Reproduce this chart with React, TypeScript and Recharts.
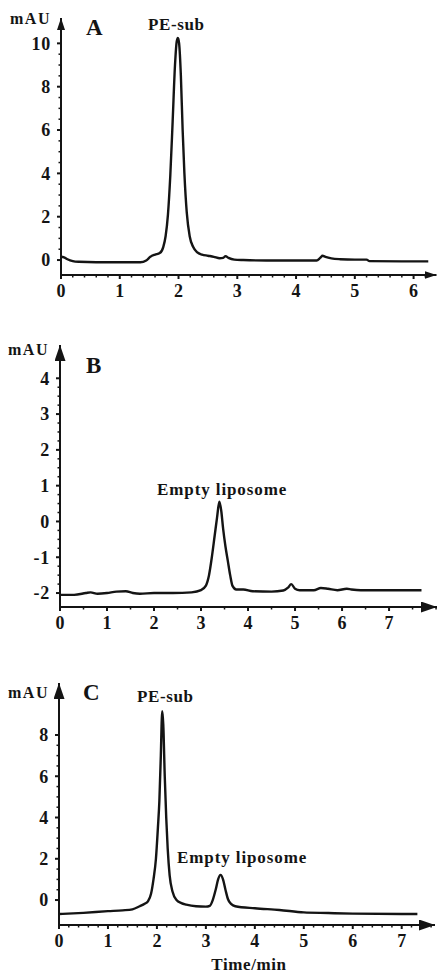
import { LineChart, Line, XAxis, YAxis } from "recharts";

// Panel A: PE-sub
const timeA = [0, 0.05, 0.1, 0.2, 0.3, 0.6, 1.0, 1.35, 1.45, 1.52, 1.6, 1.68, 1.74, 1.78, 1.82, 1.86, 1.9, 1.94, 1.97, 1.99, 2.01, 2.04, 2.07, 2.1, 2.14, 2.19, 2.25, 2.32, 2.4, 2.5, 2.6, 2.7, 2.76, 2.8, 2.85, 2.95, 3.1, 3.5, 4.0, 4.35, 4.41, 4.45, 4.5, 4.6, 4.75, 5.0, 5.2, 5.25, 5.8, 6.25];
const mauA = [0.15, 0.12, 0.05, -0.05, -0.08, -0.1, -0.1, -0.1, -0.02, 0.15, 0.25, 0.32, 0.6, 1.1, 2.1, 3.9, 6.4, 9.0, 10.1, 10.25, 10.0, 8.5, 6.0, 4.0, 2.2, 1.1, 0.6, 0.35, 0.25, 0.2, 0.15, 0.08, 0.1, 0.18, 0.1, 0.02, 0.0, -0.02, -0.02, -0.02, 0.1, 0.2, 0.15, 0.08, 0.04, 0.02, 0.02, -0.05, -0.06, -0.06];

// Panel B: empty liposome
const timeB = [0, 0.3, 0.55, 0.65, 0.8, 1.0, 1.2, 1.4, 1.55, 1.7, 2.0, 2.4, 2.8, 3.0, 3.1, 3.17, 3.23, 3.29, 3.34, 3.39, 3.43, 3.47, 3.52, 3.57, 3.62, 3.67, 3.75, 3.9, 4.1, 4.5, 4.75, 4.85, 4.92, 5.0, 5.1, 5.4, 5.55, 5.7, 5.9, 6.1, 6.2, 6.4, 7.0, 7.69];
const mauB = [-2.05, -2.05, -2.0, -1.98, -2.02, -2.0, -1.96, -1.95, -2.0, -2.02, -2.0, -2.0, -1.98, -1.92, -1.8, -1.5, -1.0, -0.4, 0.1, 0.55, 0.3, -0.2, -0.7, -1.1, -1.5, -1.8, -1.9, -1.9, -1.95, -1.96, -1.93, -1.85, -1.75, -1.88, -1.92, -1.92, -1.86, -1.88, -1.92, -1.88, -1.9, -1.92, -1.92, -1.92];

// Panel C: PE-sub in liposome
const timeC = [0, 0.5, 1.0, 1.3, 1.5, 1.65, 1.75, 1.82, 1.88, 1.93, 1.98, 2.02, 2.05, 2.08, 2.1, 2.11, 2.13, 2.16, 2.19, 2.22, 2.26, 2.32, 2.4, 2.5, 2.6, 2.8, 3.0, 3.08, 3.14, 3.2, 3.25, 3.3, 3.35, 3.4, 3.45, 3.52, 3.6, 4.0, 4.5, 5.0, 5.5, 6.0, 7.0, 7.32];
const mauC = [-0.68, -0.62, -0.54, -0.5, -0.45, -0.3, -0.18, -0.05, 0.3, 1.0, 2.0, 3.5, 4.8, 7.0, 8.8, 9.15, 8.5, 6.0, 4.0, 2.5, 1.2, 0.4, 0.0, -0.15, -0.22, -0.3, -0.32, -0.28, 0.0, 0.5, 1.0, 1.22, 1.0, 0.5, 0.05, -0.2, -0.3, -0.4, -0.48, -0.6, -0.63, -0.66, -0.68, -0.68];

const xTicksA = [0, 1, 2, 3, 4, 5, 6];
const yTicksA = [0, 2, 4, 6, 8, 10];
const xTicksB = [0, 1, 2, 3, 4, 5, 6, 7];
const yTicksB = [-2, -1, 0, 1, 2, 3, 4];
const xTicksC = [0, 1, 2, 3, 4, 5, 6, 7];
const yTicksC = [0, 2, 4, 6, 8];

const FONT = '"Liberation Serif", "Times New Roman", serif';
const INK = "#141414";

const zip = (t: number[], v: number[]) => t.map((x, i) => ({ t: x, mau: v[i] }));

// major ticks plus small ticks in between
const withMinor = (lo: number, hi: number, step: number) => {
  const out: number[] = [];
  for (let v = lo; v <= hi + 1e-9; v += step) out.push(Math.round(v * 100) / 100);
  return out;
};

const isMajor = (v: number, majors: number[]) => majors.some((m) => Math.abs(m - v) < 1e-6);

const makeXTick = (majors: number[]) => (props: any) => {
  const { x, y, payload } = props;
  const major = isMajor(payload.value, majors);
  return (
    <g>
      <line x1={x} x2={x} y1={y} y2={y + (major ? 4 : 2.5)} stroke={INK} strokeWidth={major ? 2 : 1.5} />
      {major && (
        <text x={x} y={y + 22} textAnchor="middle" fontFamily={FONT} fontWeight="bold" fontSize={18} fill={INK}>
          {payload.value}
        </text>
      )}
    </g>
  );
};

const makeYTick = (majors: number[]) => (props: any) => {
  const { x, y, payload } = props;
  const major = isMajor(payload.value, majors);
  return (
    <g>
      <line x1={x} x2={x - (major ? 4 : 2.5)} y1={y} y2={y} stroke={INK} strokeWidth={major ? 2 : 1.5} />
      {major && (
        <text x={x - 10} y={y} dy="0.35em" textAnchor="end" fontFamily={FONT} fontWeight="bold" fontSize={18} letterSpacing={0.8} fill={INK}>
          {payload.value}
        </text>
      )}
    </g>
  );
};

const Label = ({ x, y, size = 17, children, anchor = "start", spacing = 0.6 }: any) => (
  <text x={x} y={y} fontFamily={FONT} fontWeight="bold" fontSize={size} fill={INK} textAnchor={anchor} letterSpacing={spacing}>
    {children}
  </text>
);

const Panel = ({ rows, top, height, margin, xMax, xMajor, xStep, yDomain, yMajor, yStep, arrow, children }: any) => (
  <div style={{ position: "absolute", left: 0, top, width: 438, height }}>
    <LineChart width={438} height={height} data={rows} margin={margin}>
      <XAxis
        dataKey="t"
        type="number"
        domain={[0, xMax]}
        ticks={withMinor(0, Math.floor(xMax * 10) / 10, xStep)}
        interval={0}
        allowDataOverflow
        height={30}
        tickSize={0}
        tickMargin={0}
        tickLine={false}
        tick={makeXTick(xMajor)}
        axisLine={{ stroke: INK, strokeWidth: 2, markerEnd: `url(#${arrow})` }}
      />
      <YAxis
        type="number"
        domain={yDomain}
        ticks={withMinor(yMajor[0], yMajor[yMajor.length - 1], yStep)}
        interval={0}
        allowDataOverflow
        width={50}
        tickSize={0}
        tickMargin={0}
        tickLine={false}
        tick={makeYTick(yMajor)}
        axisLine={{ stroke: INK, strokeWidth: 2, markerStart: `url(#${arrow})` }}
      />
      <Line type="monotone" dataKey="mau" stroke={INK} strokeWidth={2.4} dot={false} isAnimationActive={false} />
      {children}
    </LineChart>
  </div>
);

export default function App() {
  return (
    <div style={{ position: "absolute", left: 0, top: 0, width: 438, height: 978, background: "#fff" }}>
      <svg width={0} height={0} style={{ position: "absolute" }}>
        <defs>
          <marker id="arrowSmall" viewBox="0 0 12 8" refX={12} refY={4} markerWidth={12} markerHeight={8} markerUnits="userSpaceOnUse" orient="auto-start-reverse">
            <path d="M0,0 L12,4 L0,8 z" fill={INK} />
          </marker>
          <marker id="arrowBig" viewBox="0 0 16 11" refX={16} refY={5.5} markerWidth={16} markerHeight={11} markerUnits="userSpaceOnUse" orient="auto-start-reverse">
            <path d="M0,0 L16,5.5 L0,11 z" fill={INK} />
          </marker>
        </defs>
      </svg>

      <Panel
        rows={zip(timeA, mauA)}
        top={0}
        height={320}
        margin={{ top: 18, right: 1.5, bottom: 15, left: 11 }}
        xMax={6.39}
        xMajor={xTicksA}
        xStep={0.2}
        yDomain={[-0.69, 11.17]}
        yMajor={yTicksA}
        yStep={0.5}
        arrow="arrowSmall"
      >
        <Label x={10} y={24} size={16} spacing={1.5}>mAU</Label>
        <Label x={86} y={35} size={23}>A</Label>
        <Label x={148} y={30}>PE-sub</Label>
      </Panel>

      <Panel
        rows={zip(timeB, mauB)}
        top={320}
        height={320}
        margin={{ top: 25, right: 1, bottom: 3, left: 10 }}
        xMax={8.02}
        xMajor={xTicksB}
        xStep={0.5}
        yDomain={[-2.39, 4.93]}
        yMajor={yTicksB}
        yStep={0.25}
        arrow="arrowBig"
      >
        <Label x={8} y={35} size={16} spacing={1.5}>mAU</Label>
        <Label x={86} y={53} size={23}>B</Label>
        <Label x={157} y={175} spacing={0.9}>Empty liposome</Label>
      </Panel>

      <Panel
        rows={zip(timeC, mauC)}
        top={650}
        height={328}
        margin={{ top: 33, right: 3, bottom: 23, left: 9 }}
        xMax={7.68}
        xMajor={xTicksC}
        xStep={0.2}
        yDomain={[-1.21, 10.52]}
        yMajor={yTicksC}
        yStep={0.5}
        arrow="arrowBig"
      >
        <Label x={8} y={48} size={16} spacing={1.5}>mAU</Label>
        <Label x={83} y={50} size={23}>C</Label>
        <Label x={137} y={52}>PE-sub</Label>
        <Label x={177} y={213} spacing={0.9}>Empty liposome</Label>
        <Label x={249} y={320} anchor="middle">Time/min</Label>
      </Panel>
    </div>
  );
}
